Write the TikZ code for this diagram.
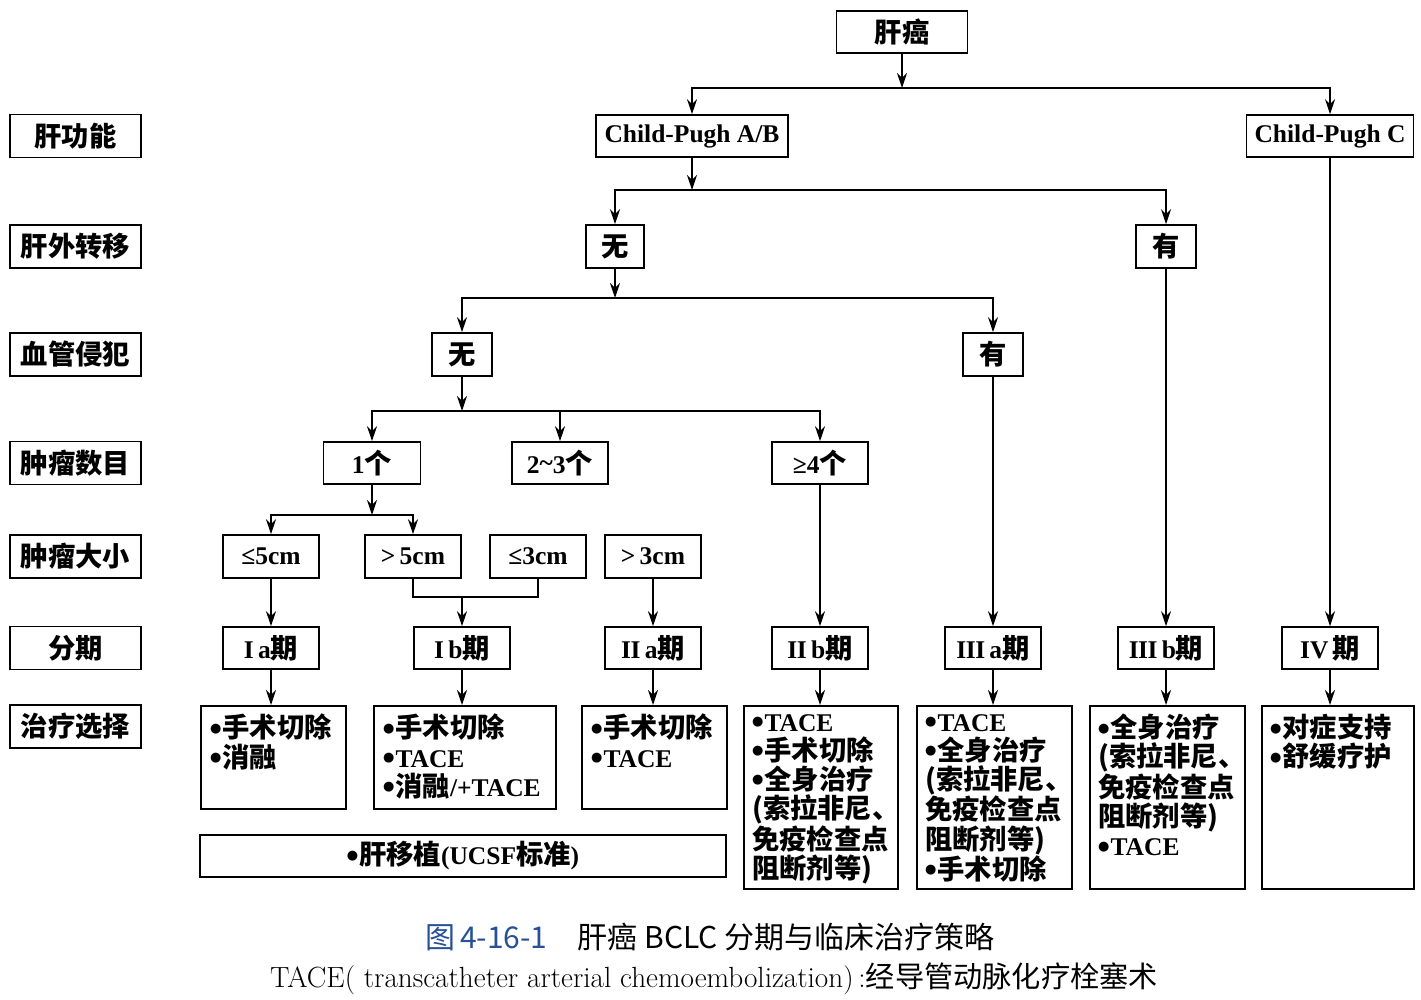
\documentclass[tikz,border=0pt]{standalone}
\usepackage{fontspec}
\usetikzlibrary{arrows.meta}
\newfontfamily\lib{Liberation Serif}
\newfontfamily\cjk{Noto Sans CJK SC}[Scale=1.07]
\newfontfamily\cjkcap{Noto Sans CJK SC}
\newfontfamily\dv{DejaVu Sans}
\newcommand\zh[1]{{\cjk\bfseries #1}}
\newcommand\zhn[1]{{\cjkcap #1}}
\newcommand\bul{\raisebox{5.5pt}{\dv\fontsize{13}{13}\selectfont ●}\kern1pt}
\definecolor{capblue}{RGB}{40,80,150}
\tikzset{
  bx/.style={draw, line width=1.6pt, inner sep=0pt, minimum height=42pt,
    font=\lib\bfseries\fontsize{25.5}{29}\selectfont},
  lbl/.style={bx, minimum width=131pt, minimum height=43pt},
  stg/.style={bx, minimum width=96pt},
  tb/.style={draw, line width=1.6pt, inner sep=0pt},
  tt/.style={anchor=north west, inner sep=0pt, align=left,
    font=\lib\bfseries\fontsize{25.5}{29.2}\selectfont},
  ln/.style={line width=1.6pt},
  arr/.style={ln, -{Stealth[length=15pt,width=10pt]}}
}
\begin{document}
\begin{tikzpicture}[x=1pt,y=-1pt]
\useasboundingbox (0,0) rectangle (1421,999);
\fill[white] (0,0) rectangle (1421,999);

% left labels
\node[lbl] (L1) at (75.5,136) {\zh{肝功能}};
\node[lbl] (L2) at (75.5,246.5) {\zh{肝外转移}};
\node[lbl] (L3) at (75.5,354.5) {\zh{血管侵犯}};
\node[lbl] (L4) at (75.5,463) {\zh{肿瘤数目}};
\node[lbl] (L5) at (75.5,556.5) {\zh{肿瘤大小}};
\node[lbl] (L6) at (75.5,648) {\zh{分期}};
\node[lbl] (L7) at (75.5,726.5) {\zh{治疗选择}};

% tree
\node[bx, minimum width=131pt] (A) at (902,32) {\zh{肝癌}};
\node[bx, minimum width=192pt] (CPAB) at (692,136) {Child-Pugh A/B};
\node[bx, minimum width=167pt] (CPC) at (1330,136) {Child-Pugh C};
\node[bx, minimum width=58pt, minimum height=43pt] (E0) at (615,246.5) {\zh{无}};
\node[bx, minimum width=60pt, minimum height=43pt] (E1) at (1166,246.5) {\zh{有}};
\node[bx, minimum width=60pt, minimum height=43pt] (V0) at (462,354.5) {\zh{无}};
\node[bx, minimum width=60pt, minimum height=43pt] (V1) at (993,354.5) {\zh{有}};
\node[bx, minimum width=97pt] (N1) at (372,463) {1\zh{个}};
\node[bx, minimum width=96pt] (N2) at (560,463) {2\raisebox{2pt}{\char"7E}3\zh{个}};
\node[bx, minimum width=96pt] (N3) at (820,463) {≥4\zh{个}};
\node[stg, minimum height=43pt] (S1) at (271,556.5) {≤5cm};
\node[stg, minimum height=43pt] (S2) at (413,556.5) {>\,5cm};
\node[stg, minimum height=43pt] (S3) at (538,556.5) {≤3cm};
\node[stg, minimum height=43pt] (S4) at (653,556.5) {>\,3cm};

\node[stg] (G1) at (271,648) {I\,a\zh{期}};
\node[stg] (G2) at (462,648) {I\,b\zh{期}};
\node[stg] (G3) at (653,648) {I\kern-0.5ptI\,a\zh{期}};
\node[stg] (G4) at (820,648) {I\kern-0.5ptI\,b\zh{期}};
\node[stg] (G5) at (993,648) {I\kern-0.5ptI\kern-0.5ptI\,a\zh{期}};
\node[stg] (G6) at (1166,648) {I\kern-0.5ptI\kern-0.5ptI\,b\zh{期}};
\node[stg] (G7) at (1330,648) {IV\,\zh{期}};

% treatment boxes
\node[tb, minimum width=145pt, minimum height=103pt, anchor=north west] (T1) at (200,705) {};
\node[tb, minimum width=182pt, minimum height=103pt, anchor=north west] (T2) at (373,705) {};
\node[tb, minimum width=145pt, minimum height=103pt, anchor=north west] (T3) at (581,705) {};
\node[tb, minimum width=154pt, minimum height=183pt, anchor=north west] (T4) at (743,705) {};
\node[tb, minimum width=155pt, minimum height=183pt, anchor=north west] (T5) at (916,705) {};
\node[tb, minimum width=155pt, minimum height=183pt, anchor=north west] (T6) at (1089,705) {};
\node[tb, minimum width=152pt, minimum height=183pt, anchor=north west] (T7) at (1261,705) {};
\node[bx, minimum width=526pt, minimum height=42pt] (LT) at (463,856) {\bul\zh{肝移植}(UCSF\zh{标准})};

\node[tt] (X1) at ([shift={(10,9)}]T1.north west) {\bul\zh{手术切除}\\\bul\zh{消融}};
\node[tt] (X2) at ([shift={(10,9)}]T2.north west) {\bul\zh{手术切除}\\\bul TACE\\\bul\zh{消融}/+TACE};
\node[tt] (X3) at ([shift={(10,9)}]T3.north west) {\bul\zh{手术切除}\\\bul TACE};
\node[tt] (X4) at ([shift={(9,9)}]T4.north west) {\bul TACE\\\bul\zh{手术切除}\\\bul\zh{全身治疗}\\\zh{(索拉非尼、}\\\zh{免疫检查点}\\\zh{阻断剂等)}};
\node[tt] (X5) at ([shift={(9,9)}]T5.north west) {\bul TACE\\\bul\zh{全身治疗}\\\zh{(索拉非尼、}\\\zh{免疫检查点}\\\zh{阻断剂等)}\\\bul\zh{手术切除}};
\node[tt] (X6) at ([shift={(9,9)}]T6.north west) {\bul\zh{全身治疗}\\\zh{(索拉非尼、}\\\zh{免疫检查点}\\\zh{阻断剂等)}\\\bul TACE};
\node[tt] (X7) at ([shift={(9,9)}]T7.north west) {\bul\zh{对症支持}\\\bul\zh{舒缓疗护}};

% connectors
\coordinate (j1) at (902,88);
\draw[arr] (A) -- (j1);
\draw[arr] (j1) -| (CPAB);
\draw[arr] (j1) -| (CPC);
\coordinate (j2) at (692,190);
\draw[arr] (CPAB) -- (j2);
\draw[arr] (j2) -| (E0);
\draw[arr] (j2) -| (E1);
\coordinate (j3) at (615,298);
\draw[arr] (E0) -- (j3);
\draw[arr] (j3) -| (V0);
\draw[arr] (j3) -| (V1);
\coordinate (j4) at (462,411);
\draw[arr] (V0) -- (j4);
\draw[arr] (j4) -| (N1);
\draw[arr] (j4) -| (N2);
\draw[arr] (j4) -| (N3);
\coordinate (j5) at (372,515);
\draw[arr] (N1) -- (j5);
\draw[arr] (j5) -| (S1);
\draw[arr] (j5) -| (S2);
\coordinate (j6) at (462,597);
\draw[ln] (S2.south) |- (j6);
\draw[ln] (S3.south) |- (j6);
\draw[arr] (j6) -- (G2);
\draw[arr] (S1) -- (G1);
\draw[arr] (S4) -- (G3);
\draw[arr] (N3) -- (G4);
\draw[arr] (V1) -- (G5);
\draw[arr] (E1) -- (G6);
\draw[arr] (CPC) -- (G7);
\draw[arr] (G1.south) -- (G1.south |- T1.north);
\draw[arr] (G2.south) -- (G2.south |- T2.north);
\draw[arr] (G3.south) -- (G3.south |- T3.north);
\draw[arr] (G4.south) -- (G4.south |- T4.north);
\draw[arr] (G5.south) -- (G5.south |- T5.north);
\draw[arr] (G6.south) -- (G6.south |- T6.north);
\draw[arr] (G7.south) -- (G7.south |- T7.north);

% caption
\node[anchor=west, inner sep=0pt, font=\cjkcap\fontsize{30}{33}\selectfont] (C1) at (425,937)
  {\textcolor{capblue}{图\,4-16-1}\hspace{1em}肝癌 BCLC 分期与临床治疗策略};
\node[anchor=west, inner sep=0pt, font=\fontsize{29.2}{32}\selectfont] (C2) at (270,979)
  {TACE( transcatheter arterial chemoembolization)\,:\zhn{\fontsize{29.2}{32}\selectfont 经导管动脉化疗栓塞术}};
\end{tikzpicture}
\end{document}
